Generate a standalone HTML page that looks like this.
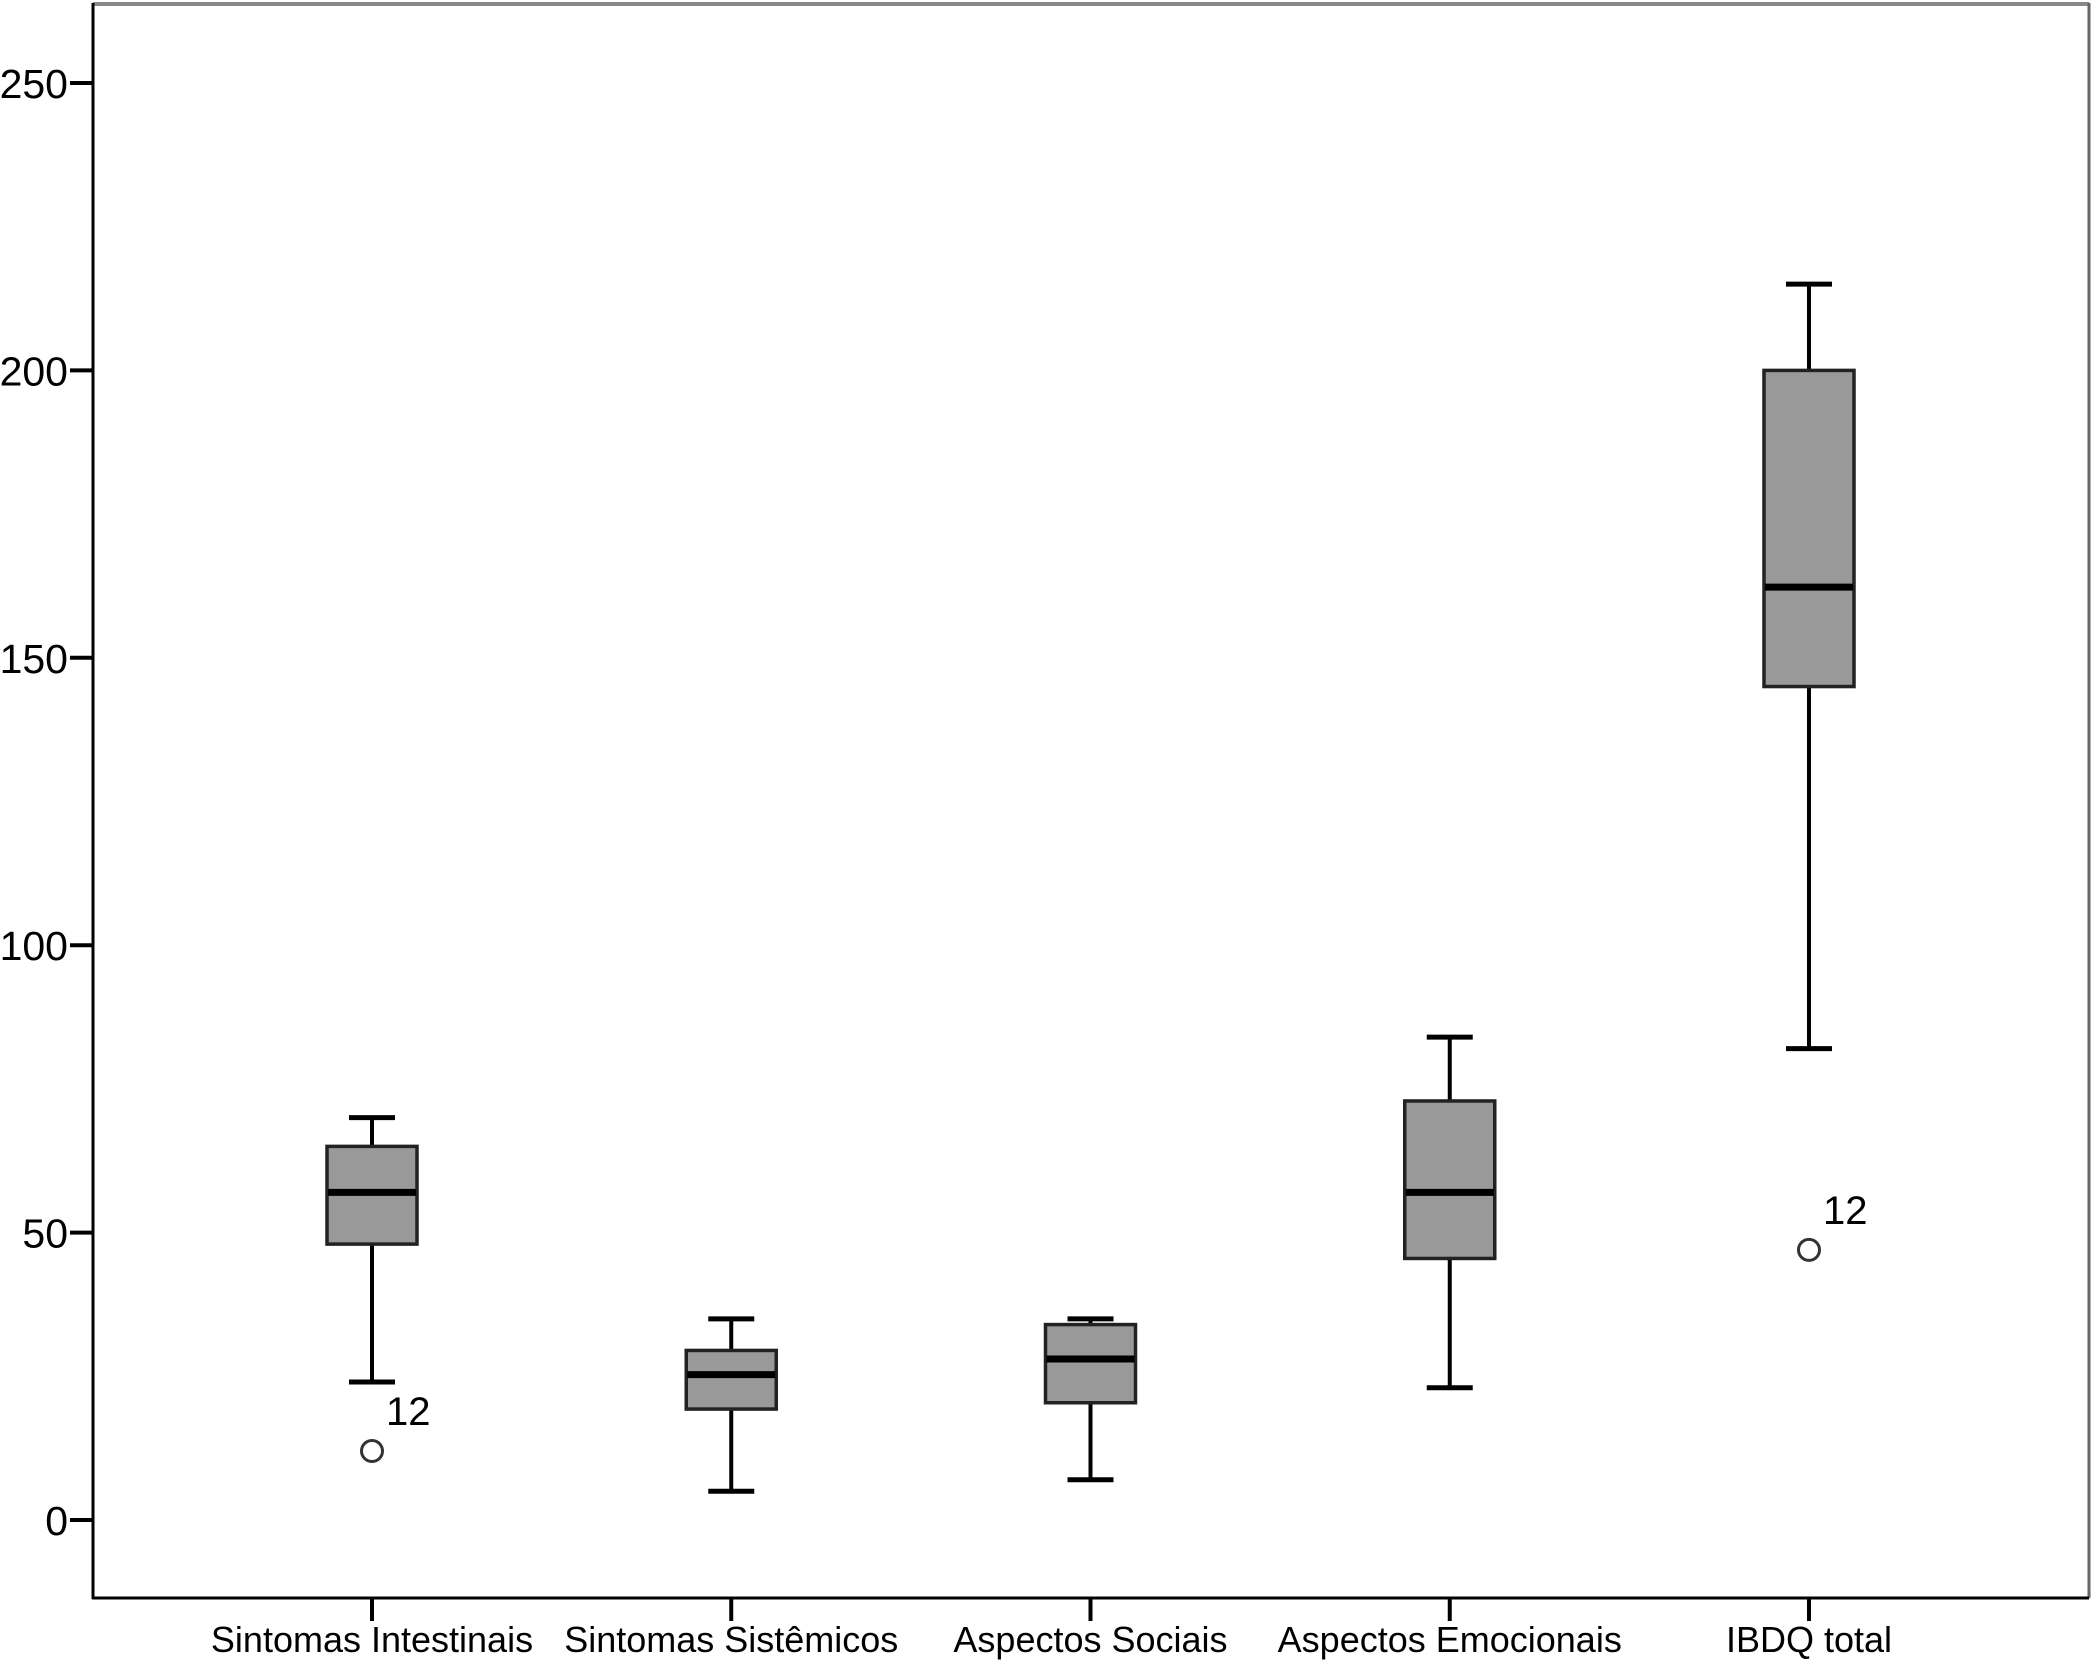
<!DOCTYPE html>
<html><head><meta charset="utf-8"><style>html,body{margin:0;padding:0;background:#fff}svg{display:block}text{font-family:"Liberation Sans",sans-serif;fill:#000}</style></head>
<body>
<svg id="chart" width="2092" height="1662" viewBox="0 0 2092 1662" xmlns="http://www.w3.org/2000/svg">
<rect x="93" y="3" width="1996" height="1595" fill="#fff" stroke="none"/>
<line x1="93" y1="4" x2="2089" y2="4" stroke="#888" stroke-width="4"/>
<line x1="2089" y1="3" x2="2089" y2="1598" stroke="#666" stroke-width="3"/>
<line x1="93" y1="3" x2="93" y2="1599" stroke="#000" stroke-width="3"/>
<line x1="92" y1="1598" x2="2089" y2="1598" stroke="#000" stroke-width="3"/>
<g id="marks"></g>
</svg>
<script>
const categories = ["Sintomas Intestinais","Sintomas Sistêmicos","Aspectos Sociais","Aspectos Emocionais","IBDQ total"];
const whiskerLow = [24, 5, 7, 23, 82];
const q1Values = [48, 19.3, 20.4, 45.5, 145];
const medianValues = [57, 25.3, 28, 57, 162.3];
const q3Values = [65, 29.5, 34, 72.9, 200];
const whiskerHigh = [70, 35, 35, 84, 215];
const outlierValues = [12, null, null, null, 47];
const outlierLabels = ["12", null, null, null, "12"];
const yTicks = [0, 50, 100, 150, 200, 250];

const NS = "http://www.w3.org/2000/svg";
const g = document.getElementById('marks');
function yS(v){ return 1520 - v * 1437 / 250; }
function xS(i){ return 372 + i * 359.25; }
function el(tag, attrs){ const e = document.createElementNS(NS, tag); for (const k in attrs) e.setAttribute(k, attrs[k]); g.appendChild(e); return e; }

yTicks.forEach(t => {
  const l = el('line', {x1: 70, x2: 93, y1: yS(t), y2: yS(t), stroke: '#000', 'stroke-width': 4});
  
  
  const tx = el('text', {x: 68, y: yS(t) + 15, 'text-anchor': 'end', 'font-size': 41});
  
  
  tx.textContent = t;
});

categories.forEach((c, i) => {
  const x = xS(i);
  const tk = el('line', {x1: x, x2: x, y1: 1598, y2: 1621, stroke: '#000', 'stroke-width': 4});
  
  
  const lb = el('text', {x: x, y: 1652, 'text-anchor': 'middle', 'font-size': 36});
  
  
  lb.textContent = c;

  const wl = el('line', {x1: x, x2: x, y1: yS(whiskerLow[i]), y2: yS(q1Values[i]), stroke: '#000', 'stroke-width': 4});
  
  
  const wh = el('line', {x1: x, x2: x, y1: yS(whiskerHigh[i]), y2: yS(q3Values[i]), stroke: '#000', 'stroke-width': 4});
  
  
  const cl = el('line', {x1: x - 23, x2: x + 23, y1: yS(whiskerLow[i]), y2: yS(whiskerLow[i]), stroke: '#000', 'stroke-width': 5});
  
  
  const ch = el('line', {x1: x - 23, x2: x + 23, y1: yS(whiskerHigh[i]), y2: yS(whiskerHigh[i]), stroke: '#000', 'stroke-width': 5});
  
  
  const bx = el('rect', {x: x - 45, y: yS(q3Values[i]), width: 90, height: yS(q1Values[i]) - yS(q3Values[i]), fill: '#999', stroke: '#222', 'stroke-width': 3.5});
  
  
  const md = el('line', {x1: x - 44, x2: x + 44, y1: yS(medianValues[i]), y2: yS(medianValues[i]), stroke: '#000', 'stroke-width': 7});
  
  

  if (outlierValues[i] !== null) {
    const o = el('circle', {cx: x, cy: yS(outlierValues[i]), r: 10.5, fill: 'none', stroke: '#333', 'stroke-width': 3});
    
    
    const ol = el('text', {x: x + 14, y: yS(outlierValues[i]) - 26, 'font-size': 40});
    
    
    ol.textContent = outlierLabels[i];
  }
});
</script>
</body></html>
